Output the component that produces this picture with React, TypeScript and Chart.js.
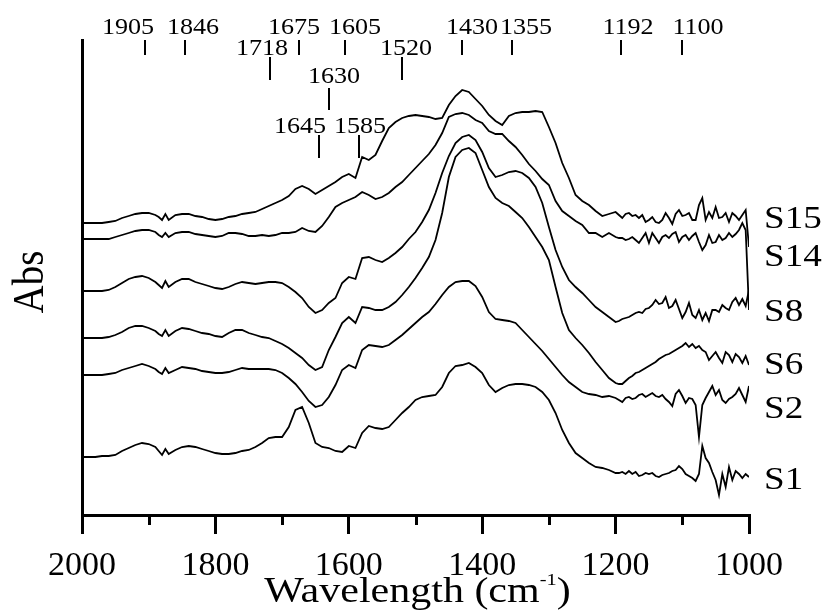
import React, { useEffect, useRef } from "react";
import { Chart, registerables } from "chart.js";

Chart.register(...registerables);

// Wavenumber grid (cm-1)
const wavenumbers = [
  2000, 1990, 1980, 1970, 1960, 1950, 1940, 1930, 1920, 1910,
  1900, 1890, 1885, 1880, 1875, 1870, 1860, 1850, 1840, 1830,
  1820, 1810, 1800, 1790, 1780, 1770, 1760, 1750, 1740, 1730,
  1720, 1710, 1700, 1690, 1680, 1670, 1660, 1650, 1640, 1630,
  1620, 1610, 1600, 1590, 1580, 1570, 1560,
  1550, 1540, 1530, 1520, 1510, 1500, 1490, 1480, 1470, 1460,
  1450, 1440, 1430, 1420, 1410, 1400, 1390, 1380, 1370, 1360,
  1350, 1340, 1330, 1320, 1310, 1300, 1290, 1280, 1270, 1260,
  1250, 1240, 1230, 1220, 1210, 1200,
  1195, 1190, 1185, 1180, 1175, 1170, 1165, 1160, 1155, 1150,
  1145, 1140, 1135, 1130, 1125, 1120, 1115, 1110, 1105, 1100,
  1095, 1090, 1085, 1080, 1075, 1070, 1065, 1060, 1055, 1050,
  1045, 1040, 1035, 1030, 1025, 1020, 1015, 1010, 1005, 1000,
];

// Stacked absorbance (arbitrary units, offset per spectrum)
const s1 = [
  58, 58, 58, 59, 59, 60, 64, 67, 70, 72,
  71, 68, 64, 60, 66, 61, 65, 68, 69, 68,
  66, 64, 62, 61, 61, 62, 64, 65, 68, 72,
  77, 78, 78, 88, 105, 108, 92, 72, 68, 67,
  64, 63, 69, 67, 82, 89, 87,
  86, 88, 95, 102, 108, 115, 118, 119, 120, 128,
  142, 149, 150, 152, 148, 142, 130, 123, 127, 130,
  131, 131, 130, 128, 123, 115, 102, 85, 72, 62,
  57, 52, 48, 47, 45, 42,
  42, 43, 41, 44, 41, 43, 39, 40, 42, 41,
  42, 39, 38, 40, 41, 42, 44, 45, 49, 46,
  41, 39, 37, 34, 41, 69, 57, 52, 43, 35,
  20, 41, 28, 48, 35, 44, 41, 37, 41, 38,
];

const s2 = [
  140, 140, 140, 140, 141, 142, 145, 147, 149, 151,
  149, 146, 143, 141, 147, 142, 145, 148, 147, 146,
  144, 143, 142, 142, 143, 145, 147, 146, 146, 146,
  146, 145, 142, 137, 131, 123, 114, 108, 110, 118,
  130, 145, 150, 147, 165, 170, 169,
  168, 170, 175, 180, 186, 192, 198, 203, 211, 220,
  228, 233, 234, 234, 229, 218, 203, 196, 195, 194,
  192, 185, 178, 171, 164, 156, 148, 140, 133, 128,
  123, 121, 120, 118, 119, 117,
  115, 113, 117, 118, 116, 117, 120, 121, 118, 120,
  122, 119, 118, 120, 116, 113, 109, 121, 125, 119,
  112, 117, 116, 110, 78, 110, 117, 123, 129, 120,
  125, 115, 112, 116, 118, 121, 127, 120, 113, 129,
];

const s6 = [
  177, 177, 177, 177, 178, 180, 183, 187, 189, 189,
  187, 184, 181, 179, 185, 179, 184, 187, 186, 184,
  182, 181, 179, 178, 182, 185, 185, 182, 180, 178,
  177, 174, 171, 167, 162, 157, 150, 145, 148, 165,
  178, 192, 198, 192, 208, 207, 205,
  205, 208, 213, 220, 228, 237, 247, 258, 275, 302,
  338, 358, 365, 367, 362, 345, 328, 317, 312, 309,
  303, 297, 288, 278, 268, 255, 228, 202, 185, 177,
  170, 162, 153, 145, 137, 132,
  131, 131, 134, 137, 139, 142, 143, 145, 147, 149,
  151, 153, 156, 158, 160, 161, 163, 165, 167, 169,
  172, 168, 171, 167, 169, 165, 163, 155, 159, 163,
  157, 152, 163, 160, 153, 161, 158, 152, 159, 150,
];

const s8 = [
  224, 224, 224, 224, 225, 228, 232, 236, 238, 239,
  237, 233, 230, 227, 234, 228, 233, 236, 236, 233,
  231, 229, 227, 226, 228, 231, 233, 232, 231, 232,
  233, 233, 232, 228, 223, 217, 208, 202, 205, 212,
  217, 232, 238, 236, 257, 258, 255,
  253, 257, 262, 268, 276, 283, 293, 305, 322, 342,
  359, 372, 378, 380, 375, 363, 347, 338, 340, 343,
  344, 342, 337, 328, 312, 288, 265, 248, 235, 228,
  222, 215, 208, 203, 198, 193,
  194, 196, 197, 198, 200, 202, 203, 202, 206, 207,
  210, 215, 211, 212, 218, 207, 209, 215, 206, 197,
  203, 212, 200, 197, 205, 195, 202, 194, 205, 205,
  203, 210, 207, 205, 213, 217, 210, 216, 209, 225,
];

const s14 = [
  276, 276, 276, 276, 276, 278, 280, 282, 284, 285,
  285, 283, 280, 278, 282, 278, 282, 283, 283, 281,
  280, 279, 278, 279, 282, 282, 281, 279, 279, 280,
  279, 280, 282, 282, 283, 287, 284, 283, 289, 298,
  308, 312, 315, 318, 323, 320, 316,
  318, 322, 328, 333, 340, 347, 354, 361, 370, 382,
  398, 401, 402, 400, 395, 392, 384, 381, 381, 374,
  368, 360, 351, 344, 336, 330, 314, 304, 299, 294,
  290, 282, 282, 278, 282, 278,
  277, 277, 275, 276, 278, 275, 272, 277, 282, 272,
  282, 277, 272, 278, 280, 277, 281, 283, 273, 278,
  280, 275, 279, 282, 273, 265, 270, 280, 272, 273,
  280, 275, 277, 282, 278, 281, 285, 292, 285, 205,
];

const s15 = [
  292, 292, 292, 292, 293, 294, 297, 299, 301, 302,
  302, 300, 298, 295, 301, 295, 300, 301, 301, 299,
  298, 296, 295, 296, 298, 299, 301, 302, 303, 306,
  309, 312, 315, 319, 326, 329, 326, 321, 325, 329,
  333, 338, 341, 337, 358, 355, 360,
  374, 387, 393, 397, 399, 400, 399, 398, 396, 397,
  410, 419, 425, 423, 416, 409, 400, 394, 390, 399,
  402, 403, 403, 404, 403, 388, 372, 352, 337, 320,
  314, 310, 304, 299, 301, 303,
  300, 297, 301, 302, 299, 300, 297, 300, 293, 295,
  298, 293, 292, 295, 302, 297, 291, 301, 305, 299,
  300, 302, 295, 295, 310, 317, 295, 303, 297, 308,
  297, 298, 302, 293, 302, 299, 295, 300, 305, 268,
];

const seriesNames = ["S1", "S2", "S6", "S8", "S14", "S15"];
const seriesValues = [s1, s2, s6, s8, s14, s15];
// value at which each series name is written on the right
const seriesLabelLevels = [37, 108, 152, 205, 260, 298];

// Assigned band positions (cm-1)
const bandPositions = [1905, 1846, 1718, 1675, 1645, 1630, 1605, 1585, 1520, 1430, 1355, 1192, 1100];

const xTickStep = 200;

// ---- layout (pixels) ----
const bandTier = [0, 0, 1, 0, 3, 2, 0, 3, 1, 0, 0, 0, 0];
const bandLabelDx = [-17, 8, -8, -5, -19, 5, 10, 1, 4, 10, 14, 7, 16];
const tiers = [
  { base: 33.5, t0: 40, t1: 55 },
  { base: 55, t0: 57, t1: 80 },
  { base: 83, t0: 88, t1: 110 },
  { base: 133, t0: 135, t1: 158 },
];
const FONT = "'Liberation Serif', 'Times New Roman', Times, serif";
const SX = 1.16;

function drawText(ctx: CanvasRenderingContext2D, s: string, x: number, y: number, size: number, align: CanvasTextAlign, sx = SX) {
  ctx.save();
  ctx.font = `${size}px ${FONT}`;
  ctx.textAlign = align;
  ctx.textBaseline = "alphabetic";
  ctx.fillStyle = "#000";
  ctx.translate(x, y);
  ctx.scale(sx, 1);
  ctx.fillText(s, 0, 0);
  ctx.restore();
}

const decorPlugin = {
  id: "decor",
  afterDraw(chart: any) {
    const ctx: CanvasRenderingContext2D = chart.ctx;
    const xs = chart.scales.x;
    const ys = chart.scales.y;
    const area = chart.chartArea;

    // minor ticks halfway between major ticks
    ctx.save();
    ctx.strokeStyle = "#000";
    ctx.lineWidth = 3;
    const ticks = xs.ticks.map((t: any) => t.value);
    for (let i = 0; i < ticks.length - 1; i++) {
      const v = (ticks[i] + ticks[i + 1]) / 2;
      const px = Math.round(xs.getPixelForValue(v)) + 0.5;
      ctx.beginPath();
      ctx.moveTo(px, area.bottom);
      ctx.lineTo(px, area.bottom + 10);
      ctx.stroke();
    }
    ctx.restore();

    // band markers
    ctx.save();
    ctx.strokeStyle = "#000";
    ctx.lineWidth = 2;
    bandPositions.forEach((wn, i) => {
      const t = tiers[bandTier[i]];
      const px = Math.round(xs.getPixelForValue(wn));
      ctx.beginPath();
      ctx.moveTo(px, t.t0);
      ctx.lineTo(px, t.t1);
      ctx.stroke();
      drawText(ctx, String(wn), px + bandLabelDx[i], t.base, 22.5, "center");
    });
    ctx.restore();

    // series names
    seriesNames.forEach((name, i) => {
      const py = ys.getPixelForValue(seriesLabelLevels[i]);
      drawText(ctx, name, area.right + 15, py + 10.5, 32, "left");
    });

    // y title
    ctx.save();
    ctx.font = `39px ${FONT}`;
    ctx.fillStyle = "#000";
    ctx.textAlign = "center";
    ctx.textBaseline = "alphabetic";
    ctx.translate(43, 282);
    ctx.rotate(-Math.PI / 2);
    ctx.scale(1, SX);
    ctx.fillText("Abs", 0, 0);
    ctx.restore();

    // x title with superscript
    const sxT = 1.2;
    ctx.save();
    ctx.font = `35px ${FONT}`;
    const w1 = ctx.measureText("Wavelength (cm").width * sxT;
    const w3 = ctx.measureText(")").width * sxT;
    ctx.font = `17px ${FONT}`;
    const w2 = ctx.measureText("-1").width * sxT;
    ctx.restore();
    const cx = (area.left + area.right) / 2 + 2;
    const x0 = cx - (w1 + w2 + w3) / 2;
    drawText(ctx, "Wavelength (cm", x0, 602, 35, "left", sxT);
    drawText(ctx, "-1", x0 + w1, 585, 17, "left", sxT);
    drawText(ctx, ")", x0 + w1 + w2, 602, 35, "left", sxT);
  },
};

export default function App() {
  const ref = useRef<HTMLCanvasElement>(null);
  useEffect(() => {
    if (!ref.current) return;
    const chart = new Chart(ref.current, {
      type: "line",
      data: {
        datasets: seriesValues.map((vals, i) => ({
          label: seriesNames[i],
          data: wavenumbers.map((x, j) => ({ x, y: vals[j] })),
          borderColor: "#000",
          borderWidth: 1.8,
          pointRadius: 0,
          tension: 0,
          fill: false,
        })),
      },
      options: {
        animation: false,
        responsive: false,
        devicePixelRatio: 1,
        layout: { padding: { left: 82, right: 77, top: 40, bottom: 0 } },
        plugins: { legend: { display: false }, tooltip: { enabled: false } },
        scales: {
          x: {
            type: "linear",
            reverse: true,
            min: 1000,
            max: 2000,
            position: "bottom",
            afterFit: (s: any) => {
              s.height = 98;
            },
            ticks: {
              stepSize: xTickStep,
              autoSkip: false,
              maxRotation: 0,
              padding: 12,
              color: "#000",
              font: { family: FONT, size: 34 },
              callback: (v: any) => String(v),
            },
            grid: {
              display: true,
              drawOnChartArea: false,
              drawTicks: true,
              tickLength: 19,
              tickWidth: 3,
              tickColor: "#000",
              lineWidth: 3,
              color: "#000",
            },
            border: { display: true, width: 3, color: "#000" },
          },
          y: {
            min: 0,
            max: 475,
            afterFit: (s: any) => {
              s.width = 0;
            },
            ticks: { display: false },
            grid: { display: false, drawTicks: false },
            border: { display: true, width: 3, color: "#000" },
          },
        },
      },
      plugins: [decorPlugin],
    });
    let alive = true;
    const fonts: any = (document as any).fonts;
    if (fonts && fonts.load) {
      Promise.all([
        fonts.load("20px 'Liberation Serif'"),
        fonts.load("34px 'Liberation Serif'"),
      ])
        .catch(() => undefined)
        .then(() => {
          if (alive) chart.update();
        });
    }
    return () => {
      alive = false;
      chart.destroy();
    };
  }, []);
  return (
    <div style={{ position: "absolute", left: 0, top: 0, width: 826, height: 613, background: "#fff" }}>
      <span style={{ fontFamily: "'Liberation Serif'", position: "absolute", left: -9999, top: 0 }}>0</span>
      <canvas ref={ref} width={826} height={613} style={{ display: "block" }} />
    </div>
  );
}
